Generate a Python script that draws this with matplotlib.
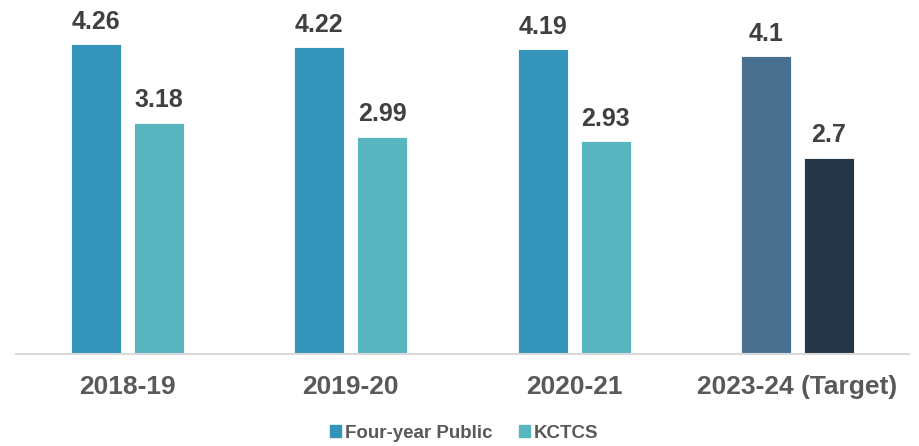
import matplotlib.pyplot as plt
import matplotlib.patches as mpatches
import numpy as np

# Datos
categorias = ['2018-19', '2019-20', '2020-21', '2023-24 (Target)']
cuatro_anios = [4.26, 4.22, 4.19, 4.1]
kctcs = [3.18, 2.99, 2.93, 2.7]
etiquetas_cuatro = ['4.26', '4.22', '4.19', '4.1']
etiquetas_kctcs = ['3.18', '2.99', '2.93', '2.7']

COLOR_PUB = '#3494BA'
COLOR_KCT = '#58B6C0'
COLOR_PUB_T = '#4A7090'
COLOR_KCT_T = '#253746'

plt.rcParams['font.family'] = ['Liberation Sans', 'DejaVu Sans']

fig = plt.figure(figsize=(9.19, 4.46), dpi=100)
ax = fig.add_axes([0.0174, 0.2063, 0.9716, 0.7937])

x = np.arange(len(categorias))
ancho = 0.224
desp = 0.141

col_pub = [COLOR_PUB] * 3 + [COLOR_PUB_T]
col_kct = [COLOR_KCT] * 3 + [COLOR_KCT_T]

b1 = ax.bar(x - desp, cuatro_anios, ancho, color=col_pub, edgecolor='white', linewidth=0.6)
b2 = ax.bar(x + desp, kctcs, ancho, color=col_kct, edgecolor='white', linewidth=0.6)

for rect, txt in zip(b1, etiquetas_cuatro):
    ax.annotate(txt, (rect.get_x() + rect.get_width() / 2, rect.get_height()),
                xytext=(0, 7.5), textcoords='offset points', ha='center', va='bottom',
                fontsize=18, fontweight='bold', color='#404040')
for rect, txt in zip(b2, etiquetas_kctcs):
    ax.annotate(txt, (rect.get_x() + rect.get_width() / 2, rect.get_height()),
                xytext=(0, 7.5), textcoords='offset points', ha='center', va='bottom',
                fontsize=18, fontweight='bold', color='#404040')

ax.set_xlim(-0.5, len(categorias) - 0.5)
ax.set_ylim(0, 4.87)
ax.set_yticks([])
ax.set_xticks(x)
ax.set_xticklabels(categorias, fontsize=19, fontweight='bold', color='#595959')
ax.tick_params(axis='x', length=0, pad=15)
for s in ['top', 'right', 'left']:
    ax.spines[s].set_visible(False)
ax.spines['bottom'].set_color('#D9D9D9')
ax.spines['bottom'].set_linewidth(1.5)

h1 = mpatches.Patch(color=COLOR_PUB, label='Four-year Public')
h2 = mpatches.Patch(color=COLOR_KCT, label='KCTCS')
fig.legend(handles=[h1, h2], loc='center', bbox_to_anchor=(0.505, 0.029), ncol=2,
           frameon=False, handlelength=0.6, handleheight=0.6, handletextpad=0.2,
           columnspacing=1.4, prop={'size': 13.5, 'weight': 'bold'}, labelcolor='#595959')

fig.savefig('out.png', dpi=100)
